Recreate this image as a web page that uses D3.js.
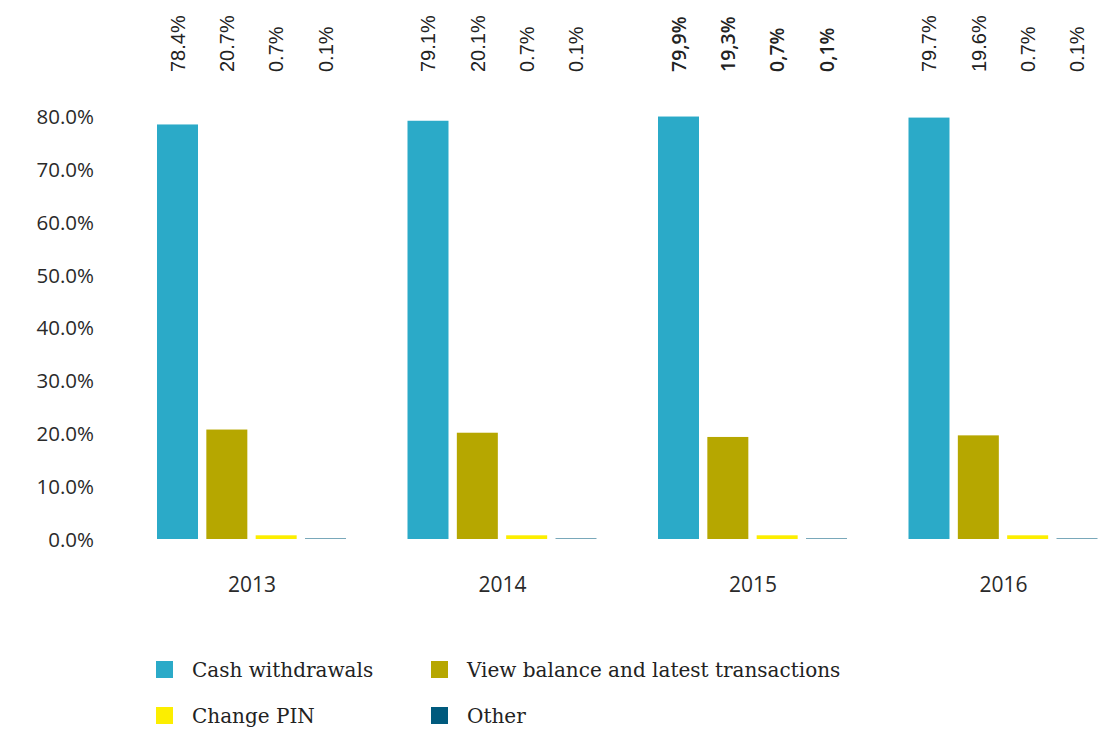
<!DOCTYPE html>
<html>
<head>
<meta charset="utf-8">
<script src="https://cdn.jsdelivr.net/npm/d3@7"></script>
<style>
  html, body { margin: 0; padding: 0; background: #fff; }
  svg { display: block; }
</style>
</head>
<body>
<svg id="chart" width="1105" height="735"></svg>
<script>
// ATM transaction types, share of all transactions per year
const years = ["2013", "2014", "2015", "2016"];
const seriesNames = ["Cash withdrawals", "View balance and latest transactions", "Change PIN", "Other"];
const seriesColors = ["#2BAAC8", "#B6A700", "#FCEE00", "#005A7D"];
const cashWithdrawals = [78.4, 79.1, 79.9, 79.7];
const viewBalance = [20.7, 20.1, 19.3, 19.6];
const changePin = [0.7, 0.7, 0.7, 0.7];
const other = [0.1, 0.1, 0.1, 0.1];
const yTicks = [0, 10, 20, 30, 40, 50, 60, 70, 80];
// 2015 values are published with a decimal comma
const decimalComma = [false, false, true, false];

const seriesValues = [cashWithdrawals, viewBalance, changePin, other];

const svg = d3.select("#chart");

const y = d3.scaleLinear().domain([0, 80]).range([539, 116]);
const xGroup = d3.scalePoint().domain(years).range([251.5, 1003]);
const xBar = d3.scaleBand().domain(seriesNames).range([-94.5, 94.5]).paddingInner(0.169).paddingOuter(0);

// Y axis labels
const yAxis = d3.axisLeft(y).tickValues(yTicks).tickFormat(d => d3.format(".1f")(d) + "%").tickSize(0).tickPadding(0);
const yg = svg.append("g").attr("transform", "translate(94,0)").call(yAxis);
yg.select(".domain").remove();
yg.selectAll("text")
  .attr("font-family", "'Open Sans', sans-serif")
  .attr("font-size", 20.5)
  .attr("fill", "#2a2a2a")
  .attr("dy", "0.36em");

// Year labels
const xAxis = d3.axisBottom(xGroup).tickSize(0).tickPadding(0);
const xg = svg.append("g").attr("transform", "translate(0,592)").call(xAxis);
xg.select(".domain").remove();
xg.selectAll("text")
  .attr("font-family", "'Open Sans', sans-serif")
  .attr("font-size", 21)
  .attr("fill", "#2a2a2a")
  .attr("dy", 0)
  .attr("y", 0);

// Bars
const rows = [];
years.forEach((yr, i) => {
  seriesNames.forEach((s, j) => {
    rows.push({ year: yr, yi: i, series: s, si: j, value: seriesValues[j][i] });
  });
});

const groups = svg.append("g");
groups.selectAll("rect")
  .data(rows)
  .join("rect")
  .attr("x", d => xGroup(d.year) + xBar(d.series))
  .attr("width", xBar.bandwidth())
  .attr("y", d => y(d.value))
  .attr("height", d => y(0) - y(d.value))
  .attr("fill", d => seriesColors[d.si]);

// Rotated value labels above the plot
const labels = svg.append("g");
labels.selectAll("text")
  .data(rows)
  .join("text")
  .attr("transform", d => `translate(${xGroup(d.year) + xBar(d.series) + xBar.bandwidth() / 2},72) rotate(-90)`)
  .attr("dy", "0.36em")
  .attr("text-anchor", "start")
  .attr("font-family", d => decimalComma[d.yi] ? "'Open Sans', sans-serif" : "'Liberation Sans', Arial, sans-serif")
  .attr("font-weight", d => decimalComma[d.yi] ? 600 : 400)
  .attr("font-size", d => decimalComma[d.yi] ? 19.5 : 20)
  .attr("fill", "#222")
  .text(d => {
    const s = d3.format(".1f")(d.value) + "%";
    return decimalComma[d.yi] ? s.replace(".", ",") : s;
  });

// Legend, two columns by two rows
const legendPos = [[156, 661], [431, 661], [156, 707], [431, 707]];
const legend = svg.append("g");
const items = legend.selectAll("g")
  .data(seriesNames)
  .join("g")
  .attr("transform", (d, i) => `translate(${legendPos[i][0]},${legendPos[i][1]})`);
items.append("rect")
  .attr("width", 17)
  .attr("height", 17)
  .attr("fill", (d, i) => seriesColors[i]);
items.append("text")
  .attr("x", 36)
  .attr("y", 16)
  .attr("font-family", "'DejaVu Serif', serif")
  .attr("font-size", 20)
  .attr("fill", "#222")
  .text(d => d);
</script>
</body>
</html>
